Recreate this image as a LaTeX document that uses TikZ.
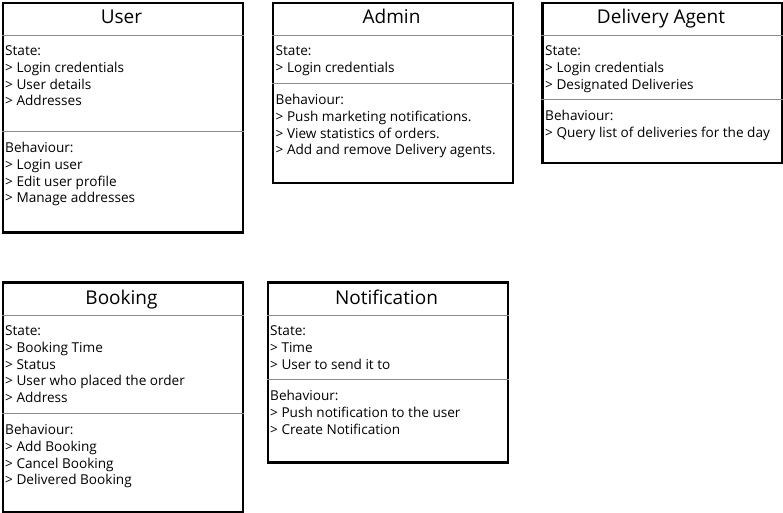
\documentclass[tikz,border=0pt]{standalone}
\usepackage{fontspec}
\setmainfont{Open Sans}
\usetikzlibrary{positioning}

\begin{document}
\begin{tikzpicture}[
    x=1pt, y=-1pt,
    cls/.style={draw, line width=2.5pt, anchor=north west,
                inner sep=0pt, minimum width=240pt},
    ctitle/.style={font=\fontsize{19}{21}\selectfont, anchor=base},
    sect/.style={font=\fontsize{13.6}{16.7}\selectfont, align=left,
                 anchor=north west, inner sep=0pt},
    sepline/.style={draw=black!45, line width=0.8pt}
  ]
  \useasboundingbox (0,0) rectangle (783,513);

  % User
  \node[cls, minimum height=229pt] (user) at (1.5,2) {};
  \node[ctitle] (usertitle) at (121.5,24) {User};
  \node[sect] (userstate) at (5,44)
    {\strut State:\\> Login credentials\\> User details\\> Addresses};
  \node[sect] (userbeh) at (5,141)
    {\strut Behaviour:\\> Login user\\> Edit user profile\\> Manage addresses};
  \draw[sepline] (user.west |- 0,35) -- (user.east |- 0,35);
  \draw[sepline] (user.west |- 0,131) -- (user.east |- 0,131);

  % Admin
  \node[cls, minimum height=179.5pt] (admin) at (271.5,2) {};
  \node[ctitle] (admintitle) at (391.5,24) {Admin};
  \node[sect] (adminstate) at (275.5,44)
    {\strut State:\\> Login credentials};
  \node[sect] (adminbeh) at (275.5,93)
    {\strut Behaviour:\\> Push marketing notifications.\\> View statistics of orders.\\> Add and remove Delivery agents.};
  \draw[sepline] (admin.west |- 0,35) -- (admin.east |- 0,35);
  \draw[sepline] (admin.west |- 0,83) -- (admin.east |- 0,83);

  % Delivery Agent
  \node[cls, minimum height=159.5pt] (agent) at (541,2) {};
  \node[ctitle] (agenttitle) at (661,24) {Delivery Agent};
  \node[sect] (agentstate) at (545,44)
    {\strut State:\\> Login credentials\\> Designated Deliveries};
  \node[sect] (agentbeh) at (545,109)
    {\strut Behaviour:\\> Query list of deliveries for the day};
  \draw[sepline] (agent.west |- 0,35) -- (agent.east |- 0,35);
  \draw[sepline] (agent.west |- 0,99) -- (agent.east |- 0,99);

  % Booking
  \node[cls, minimum height=229.5pt] (booking) at (1.5,281) {};
  \node[ctitle] (bookingtitle) at (121.5,304) {Booking};
  \node[sect] (bookingstate) at (5,324)
    {\strut State:\\> Booking Time\\> Status\\> User who placed the order\\> Address};
  \node[sect] (bookingbeh) at (5,423)
    {\strut Behaviour:\\> Add Booking\\> Cancel Booking\\> Delivered Booking};
  \draw[sepline] (booking.west |- 0,315) -- (booking.east |- 0,315);
  \draw[sepline] (booking.west |- 0,413) -- (booking.east |- 0,413);

  % Notification
  \node[cls, minimum height=180pt] (notif) at (266.5,281) {};
  \node[ctitle] (notiftitle) at (386.5,304) {Notification};
  \node[sect] (notifstate) at (270,324)
    {\strut State:\\> Time\\> User to send it to};
  \node[sect] (notifbeh) at (270,389)
    {\strut Behaviour:\\> Push notification to the user\\> Create Notification};
  \draw[sepline] (notif.west |- 0,315) -- (notif.east |- 0,315);
  \draw[sepline] (notif.west |- 0,379.5) -- (notif.east |- 0,379.5);
\end{tikzpicture}
\end{document}
